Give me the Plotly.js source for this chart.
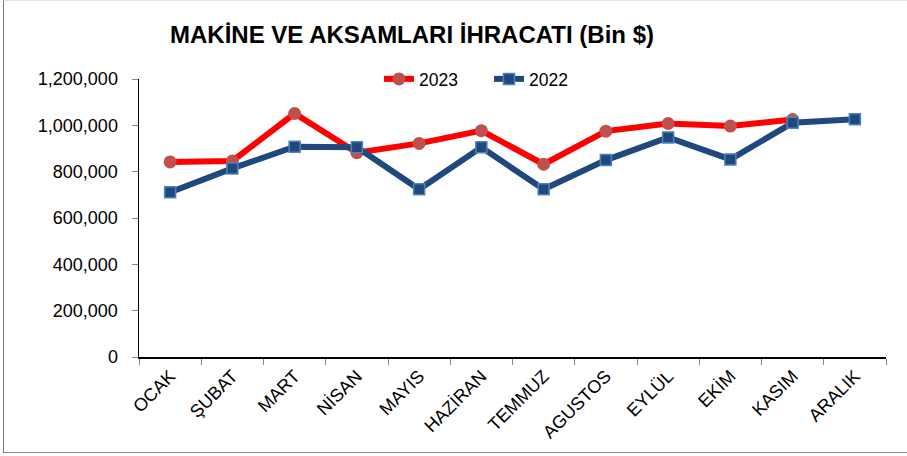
<!DOCTYPE html>
<html>
<head>
<meta charset="utf-8">
<script src="https://cdn.plot.ly/plotly-3.0.1.min.js"></script>
<style>
  html, body { margin: 0; padding: 0; background: #fff; }
  #wrap { position: relative; width: 907px; height: 456px; }
  #chart { position: absolute; left: 0; top: 0; width: 907px; height: 456px; }
  #frame { position: absolute; left: 3px; top: 0px; width: 910px; height: 451px;
           border-left: 1.5px solid #777; border-bottom: 1.5px solid #888; border-top: 1px solid #e4e4e4;
           pointer-events: none; }
</style>
</head>
<body>
<div id="wrap">
  <div id="chart"></div>
  <div id="frame"></div>
</div>
<script>
const months = ["OCAK", "ŞUBAT", "MART", "NİSAN", "MAYIS", "HAZİRAN", "TEMMUZ", "AGUSTOS", "EYLÜL", "EKİM", "KASIM", "ARALIK"];
const values2023 = [842000, 846000, 1051000, 882000, 922000, 977000, 832000, 975000, 1008000, 997000, 1025000, null];
const values2022 = [711000, 814000, 908000, 905000, 724000, 905000, 724000, 850000, 948000, 853000, 1011000, 1026000];
const yTicks = [0, 200000, 400000, 600000, 800000, 1000000, 1200000];

const FONT = "Liberation Sans, Arial, sans-serif";

const traces = [
  {
    x: months, y: values2023, name: "2023", type: "scatter", mode: "lines+markers",
    line: { color: "#FF0000", width: 6 },
    marker: { symbol: "circle", size: 13, color: "#C0504D", line: { width: 0 } },
    connectgaps: false
  },
  {
    x: months, y: values2022, name: "2022", type: "scatter", mode: "lines+markers",
    line: { color: "#1F497D", width: 6 },
    marker: { symbol: "square", size: 11, color: "#1F497D", line: { width: 1.5, color: "#4F81BD" } }
  }
];

const layout = {
  width: 907, height: 456,
  margin: { l: 139, r: 21, t: 79, b: 99, pad: 0 },
  paper_bgcolor: "#ffffff", plot_bgcolor: "#ffffff",
  font: { family: FONT, size: 18, color: "#000" },
  title: {
    text: "<b>MAKİNE VE AKSAMLARI İHRACATI (Bin $)</b>",
    font: { family: FONT, size: 24, color: "#000" },
    xref: "container", x: 412 / 907, xanchor: "center",
    yref: "container", y: 1 - 35 / 456, yanchor: "middle"
  },
  showlegend: true,
  legend: {
    orientation: "h", x: (379 - 139) / 747, xanchor: "left",
    y: 1.0, yanchor: "middle",
    entrywidth: 65, entrywidthmode: "pixels",
    font: { family: FONT, size: 17.5, color: "#000" },
    bgcolor: "rgba(0,0,0,0)", traceorder: "normal"
  },
  xaxis: {
    type: "category", range: [-0.5, 11.5],
    tickangle: -45, tickson: "boundaries",
    ticks: "outside", ticklen: 6, tickcolor: "#888", tickwidth: 1,
    showline: true, linecolor: "#000", linewidth: 1.5,
    showgrid: false, zeroline: false,
    tickfont: { family: FONT, size: 18, color: "#000" }
  },
  yaxis: {
    range: [0, 1200000], tickvals: yTicks, tickformat: ",d",
    ticks: "outside", ticklen: 6, tickcolor: "#888", tickwidth: 1,
    ticklabelstandoff: 10,
    showline: true, linecolor: "#000", linewidth: 1.5,
    showgrid: false, zeroline: false,
    tickfont: { family: FONT, size: 18, color: "#000" }
  }
};

Plotly.newPlot("chart", traces, layout, { displayModeBar: false, staticPlot: true });
</script>
</body>
</html>
